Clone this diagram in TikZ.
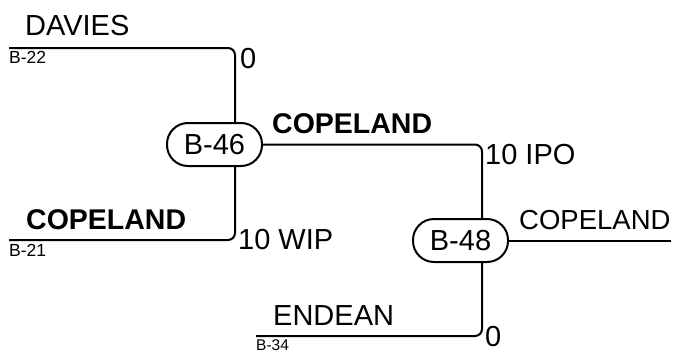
\documentclass[tikz,border=0pt]{standalone}
\usepackage{fontspec}
\setmainfont{Liberation Sans}
\begin{document}
\begin{tikzpicture}[x=1pt,y=-1pt,
  wire/.style={line width=2pt,rounded corners=7pt},
  opbox/.style={draw,line width=2pt,rounded corners=21pt,minimum width=95pt,minimum height=43pt,inner sep=0pt,font=\fontsize{29}{34}\selectfont},
  big/.style={anchor=base west,inner sep=0pt,font=\fontsize{29}{34}\selectfont},
  bigb/.style={anchor=base west,inner sep=0pt,font=\fontsize{28.5}{34}\selectfont\bfseries},
  small/.style={anchor=base west,inner sep=0pt,font=\fontsize{17.5}{20}\selectfont}]
\useasboundingbox (0,0) rectangle (677,351);
\node[opbox] (b46) at (214.5,144.5) {B-46};
\node[opbox] (b48) at (460.5,240.5) {B-48};
\coordinate (e22) at (9,48);
\coordinate (j22) at (235,48);
\coordinate (e21) at (9,240);
\coordinate (j21) at (235,240);
\coordinate (j46) at (482,144.5);
\coordinate (e34) at (256,336);
\coordinate (j34) at (482,336);
\coordinate (eout) at (671,240.5);
\draw[wire] (e22) -- (j22) -- (j22 |- b46.north);
\draw[wire] (b46.south -| j21) -- (j21) -- (e21);
\draw[wire] (b46.east) -- (j46) -- (j46 |- b48.north);
\draw[wire] (b48.south -| j34) -- (j34) -- (e34);
\draw[wire] (b48.east) -- (eout);
\node[big] (tdavies) at (25,35) {DAVIES};
\node[small] (t22) at (9,63) {B-22};
\node[big] (t0a) at (240,68) {0};
\node[bigb] (tcop1) at (272,133) {COPELAND};
\node[big] (tipo) at (485,164) {10 IPO};
\node[bigb] (tcop2) at (26,229) {COPELAND};
\node[big] (twip) at (238,249) {10 WIP};
\node[small] (t21) at (9,256) {B-21};
\node[big,font=\fontsize{27.5}{32}\selectfont] (tcop3) at (519,229) {COPELAND};
\node[big] (tend) at (273,325) {ENDEAN};
\node[small,font=\fontsize{15.5}{18}\selectfont] (t34) at (256,350) {B-34};
\node[big] (t0b) at (485,346) {0};
\end{tikzpicture}
\end{document}
